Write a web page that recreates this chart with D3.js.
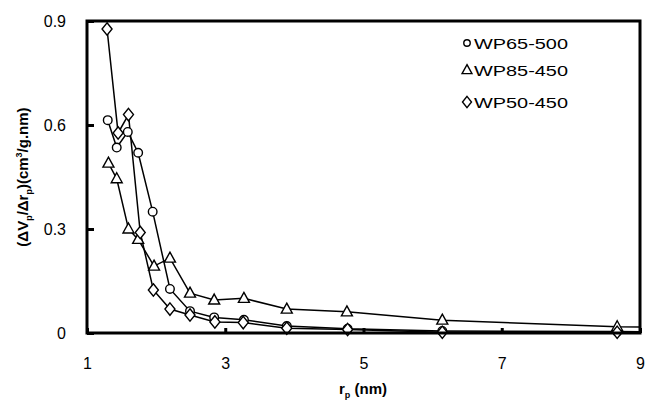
<!DOCTYPE html>
<html><head><meta charset="utf-8">
<script src="https://cdn.jsdelivr.net/npm/d3@7"></script>
<style>body{margin:0;background:#fff}svg{display:block}text{font-family:Arial,"Liberation Sans",sans-serif}</style>
</head><body>
<svg id="c" width="646" height="403"></svg>
<script>
// Data
const xTicks = [1, 3, 5, 7, 9];
const yTicks = [0, 0.3, 0.6, 0.9];
const yTickLabels = ["0", "0.3", "0.6", "0.9"];
const seriesNames = ["WP65-500", "WP85-450", "WP50-450"];
const rCircle = [1.30, 1.43, 1.59, 1.74, 1.95, 2.20, 2.49, 2.84, 3.27, 3.89, 4.77, 6.14, 8.67, 9.6];
const vCircle = [0.614, 0.535, 0.58, 0.52, 0.35, 0.127, 0.063, 0.045, 0.038, 0.02, 0.012, 0.006, 0.004, 0.003];
const rTriangle = [1.31, 1.43, 1.60, 1.74, 1.97, 2.20, 2.49, 2.84, 3.27, 3.89, 4.76, 6.14, 8.67, 9.6];
const vTriangle = [0.49, 0.445, 0.30, 0.27, 0.193, 0.216, 0.115, 0.095, 0.10, 0.069, 0.061, 0.037, 0.018, 0.016];
const rDiamond = [1.29, 1.45, 1.60, 1.77, 1.96, 2.20, 2.49, 2.85, 3.26, 3.89, 4.77, 6.14, 8.67, 9.6];
const vDiamond = [0.877, 0.577, 0.63, 0.29, 0.124, 0.069, 0.052, 0.032, 0.03, 0.014, 0.01, 0.002, 0.002, 0.002];

const svg = d3.select("#c");
const L = 87, R = 640, T = 21, B = 333;
const x = d3.scaleLinear().domain([1, 9]).range([L, R]);
const y = d3.scaleLinear().domain([0, 0.9]).range([B, T]);

svg.append("clipPath").attr("id", "clip").append("rect")
  .attr("x", L).attr("y", T - 10).attr("width", R - L).attr("height", B - T + 20);

const series = [
  {r: rCircle, v: vCircle, sym: "circle"},
  {r: rTriangle, v: vTriangle, sym: "triangle"},
  {r: rDiamond, v: vDiamond, sym: "diamond"}
];

function marker(g, type, cx, cy, s) {
  s = s || 1;
  if (type === "circle") {
    g.append("circle").attr("cx", cx).attr("cy", cy).attr("r", 4.3 * s)
      .attr("fill", "#fff").attr("stroke", "#000").attr("stroke-width", 1.4);
  } else if (type === "triangle") {
    const w = 5.5 * s, h = 10 * s;
    g.append("path").attr("d", `M${cx},${cy - h * 0.6}L${cx + w},${cy + h * 0.4}L${cx - w},${cy + h * 0.4}Z`)
      .attr("fill", "#fff").attr("stroke", "#000").attr("stroke-width", 1.4);
  } else {
    const w = 5 * s, h = 6.2 * s;
    g.append("path").attr("d", `M${cx},${cy - h}L${cx + w},${cy}L${cx},${cy + h}L${cx - w},${cy}Z`)
      .attr("fill", "#fff").attr("stroke", "#000").attr("stroke-width", 1.4);
  }
}

const plot = svg.append("g").attr("clip-path", "url(#clip)");
const line = d3.line().x(d => x(d[0])).y(d => y(d[1]));
series.forEach(s => {
  const pts = s.r.map((r, i) => [r, s.v[i]]);
  plot.append("path").datum(pts).attr("d", line)
    .attr("fill", "none").attr("stroke", "#000").attr("stroke-width", 1.5);
});
series.forEach(s => {
  s.r.forEach((r, i) => marker(plot, s.sym, x(r), y(s.v[i])));
});

// frame
svg.append("rect").attr("x", L).attr("y", T).attr("width", R - L).attr("height", B - T)
  .attr("fill", "none").attr("stroke", "#000").attr("stroke-width", 3);

// ticks
const yAxis = d3.axisLeft(y).tickValues(yTicks).tickSize(-7).tickPadding(21)
  .tickFormat((d, i) => yTickLabels[i]);
const gy = svg.append("g").attr("transform", `translate(${L},0)`).call(yAxis);
gy.select(".domain").remove();
gy.selectAll("line").attr("stroke", "#000").attr("stroke-width", 3);
gy.selectAll("text").attr("font-size", 16).attr("fill", "#000");

const xAxis = d3.axisBottom(x).tickValues(xTicks).tickSize(-5).tickPadding(25).tickFormat(d3.format("d"));
const gx = svg.append("g").attr("transform", `translate(0,${B})`).call(xAxis);
gx.select(".domain").remove();
gx.selectAll("line").attr("stroke", "#000").attr("stroke-width", 3);
gx.selectAll("text").attr("font-size", 16).attr("fill", "#000");

// axis titles
const xt = svg.append("text").attr("x", 363).attr("y", 394).attr("text-anchor", "middle")
  .attr("font-size", 15).attr("font-weight", "bold");
xt.append("tspan").text("r");
xt.append("tspan").attr("font-size", 9).attr("dy", 4).text("p");
xt.append("tspan").attr("dy", -4).text(" (nm)");

const yt = svg.append("text").attr("transform", "translate(28,177) rotate(-90)").attr("text-anchor", "middle")
  .attr("font-size", 15).attr("font-weight", "bold");
yt.append("tspan").text("(ΔV");
yt.append("tspan").attr("font-size", 9).attr("dy", 4).text("p");
yt.append("tspan").attr("dy", -4).text("/Δr");
yt.append("tspan").attr("font-size", 9).attr("dy", 4).text("p");
yt.append("tspan").attr("dy", -4).text(")(cm");
yt.append("tspan").attr("font-size", 9).attr("dy", -6).text("3");
yt.append("tspan").attr("dy", 6).text("/g.nm)");

// legend
const legY = [43, 70, 102];
const legSym = ["circle", "triangle", "diamond"];
seriesNames.forEach((n, i) => {
  marker(svg, legSym[i], 467, legY[i], i === 0 ? 0.75 : 0.9);
  svg.append("text").attr("x", 474).attr("y", legY[i] + 5.5).attr("font-size", 15)
    .attr("textLength", 94).attr("lengthAdjust", "spacingAndGlyphs").text(n);
});
</script>
</body></html>
